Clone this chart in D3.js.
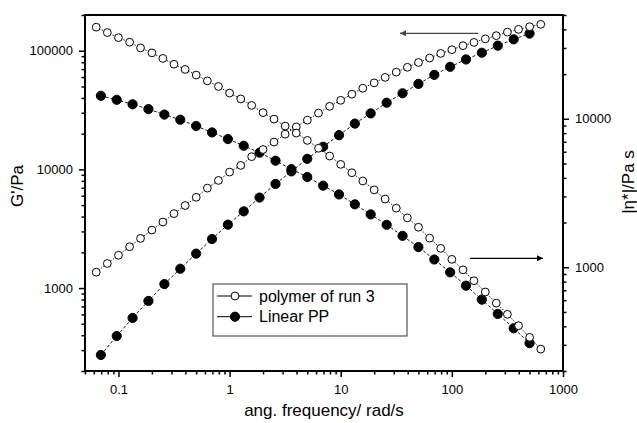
<!DOCTYPE html>
<html>
<head>
<meta charset="utf-8">
<script src="https://cdn.jsdelivr.net/npm/d3@7"></script>
<style>
body{margin:0;background:#fff;}
text{font-family:"Liberation Sans",Arial,sans-serif;fill:#000;}
</style>
</head>
<body>
<script>
let w=637,
  h=423;

// open circles: polymer of run 3
const freqOpen=[0.0631,0.0794,0.1,0.126,0.158,0.2,0.251,0.316,0.398,0.501,0.631,0.794,1,1.26,1.58,2,2.51,3.16,3.98,5.01,6.31,7.94,10,12.6,15.8,20,25.1,31.6,39.8,50.1,63.1,79.4,100,126,158,200,251,316,398,501,631];
const gOpen=[1360,1610,1890,2230,2620,3080,3600,4240,4960,5820,6950,8070,9490,10800,12800,14700,17000,19800,22800,26000,29800,34000,38200,43000,48300,53600,59600,66000,72500,79600,86800,94900,102000,110300,117500,125900,134000,143500,151400,159300,167000];
const etaOpen=[41400,38100,35200,32800,30000,27800,25500,23300,21500,19700,18000,16500,14900,13600,12300,11000,9950,8930,8010,7150,6330,5610,4930,4330,3810,3320,2880,2500,2150,1860,1570,1340,1130,960,811,681,573,482,404,337,281];

// filled circles: Linear PP
const freqFilled=[0.0695,0.0965,0.134,0.186,0.259,0.36,0.5,0.695,0.965,1.34,1.86,2.59,3.6,5,6.95,9.65,13.4,18.6,25.9,36,50,69.5,96.5,134,186,259,360,500];
const gFilled=[273,394,560,779,1080,1455,1950,2590,3420,4430,5790,7540,9620,12270,15510,19420,24300,29650,36470,43800,52530,62600,73170,84390,96180,110300,124700,139400];
const etaFilled=[14280,13420,12520,11620,10670,9850,8940,8090,7300,6580,5910,5220,4575,4054,3543,3093,2653,2269,1931,1627,1367,1127,924,751,605,485,388,308];

const xTicks=[0.1,1,10,100,1000];
const leftTicks=[1000,10000,100000];
const rightTicks=[1000,10000];
const legendLabels=["polymer of run 3","Linear PP"];

const L=85,R=563,T=15,B=371;

let xScale=d3.scaleLog().domain([0.05,1000]).range([L,R]);
let yLeft=d3.scaleLog().domain([200,200000]).range([B,T]);
let yRight=d3.scaleLog().domain([200,50000]).range([B,T]);

const svg=d3.select("body")
  .append("svg")
  .attr("width",w)
  .attr("height",h);

function fmt(d){ return d<1 ? String(d) : d3.format("d")(d); }

// minor ticks come from the scale itself, majors are the labelled ones
function axis(gen,scale,major,pos,tr){
  let minor=scale.ticks().filter(function(d){
    return !major.some(function(m){ return Math.abs(m-d)/m<1e-6; });
  });
  let g1=svg.append("g").attr("transform",tr)
    .call(gen(scale).tickValues(minor).tickSize(3.5).tickFormat(""));
  let g2=svg.append("g").attr("transform",tr)
    .call(gen(scale).tickValues(major).tickSize(6).tickPadding(pos=="b"?8:6).tickFormat(fmt));
  [g1,g2].forEach(function(g){
    g.select(".domain").remove();
    g.selectAll("line").attr("stroke","#000").attr("stroke-width",1.5);
    g.selectAll("text").attr("font-size",13);
  });
}
axis(d3.axisBottom,xScale,xTicks,"b","translate(0,"+B+")");
axis(d3.axisLeft,yLeft,leftTicks,"l","translate("+L+",0)");
axis(d3.axisRight,yRight,rightTicks,"r","translate("+R+",0)");

svg.append("rect")
  .attr("x",L).attr("y",T)
  .attr("width",R-L).attr("height",B-T)
  .attr("fill","none")
  .attr("stroke","#000")
  .attr("stroke-width",2);

// series
function series(freq,vals,yScale,filled){
  let pts=freq.map(function(f,i){ return [f,vals[i]]; });
  svg.append("path")
    .datum(pts)
    .attr("fill","none")
    .attr("stroke","#000")
    .attr("stroke-width",0.9)
    .attr("stroke-dasharray",filled?"3,2":"1.5,1.5")
    .attr("d",d3.line()
      .x(function(d){ return xScale(d[0]); })
      .y(function(d){ return yScale(d[1]); }));
  svg.append("g").selectAll("circle")
    .data(pts)
    .enter()
    .append("circle")
    .attr("cx",function(d){ return xScale(d[0]); })
    .attr("cy",function(d){ return yScale(d[1]); })
    .attr("r",filled?4.6:3.9)
    .attr("fill",filled?"#000":"#fff")
    .attr("stroke","#000")
    .attr("stroke-width",1);
}
series(freqFilled,gFilled,yLeft,true);
series(freqFilled,etaFilled,yRight,true);
series(freqOpen,gOpen,yLeft,false);
series(freqOpen,etaOpen,yRight,false);

// arrows pointing to the axis each pair belongs to
const defs=svg.append("defs");
[["ahG","#444"],["ahK","#000"]].forEach(function(a){
  defs.append("marker")
    .attr("id",a[0])
    .attr("viewBox","0 0 10 10")
    .attr("refX",10).attr("refY",5)
    .attr("markerWidth",9).attr("markerHeight",6)
    .attr("markerUnits","userSpaceOnUse")
    .attr("orient","auto")
    .append("path").attr("d","M0,0L10,5L0,10z").attr("fill",a[1]);
});
svg.append("line")
  .attr("x1",478).attr("y1",33.3).attr("x2",400).attr("y2",33.3)
  .attr("stroke","#444").attr("stroke-width",1.3)
  .attr("marker-end","url(#ahG)");
svg.append("line")
  .attr("x1",470).attr("y1",258.3).attr("x2",543).attr("y2",258.3)
  .attr("stroke","#000").attr("stroke-width",1.3)
  .attr("marker-end","url(#ahK)");

// legend
const lg=svg.append("g");
lg.append("rect")
  .attr("x",213).attr("y",284)
  .attr("width",194).attr("height",52)
  .attr("fill","#fff")
  .attr("stroke","#555")
  .attr("stroke-width",1.2);
legendLabels.forEach(function(lab,i){
  let y=296+i*20.7;
  lg.append("line")
    .attr("x1",217).attr("x2",252).attr("y1",y).attr("y2",y)
    .attr("stroke","#000").attr("stroke-width",1);
  lg.append("circle")
    .attr("cx",235).attr("cy",y)
    .attr("r",i==0?3.9:4.6)
    .attr("fill",i==0?"#fff":"#000")
    .attr("stroke","#000");
  lg.append("text")
    .attr("x",259).attr("y",y+5.5)
    .attr("font-size",16)
    .text(lab);
});

// axis titles
svg.append("text")
  .attr("x",(L+R)/2).attr("y",416)
  .attr("text-anchor","middle")
  .attr("font-size",17)
  .text("ang. frequency/ rad/s");
svg.append("text")
  .attr("transform","translate(23,186) rotate(-90)")
  .attr("text-anchor","middle")
  .attr("font-size",17)
  .text("G'/Pa");
svg.append("text")
  .attr("transform","translate(634,182) rotate(-90)")
  .attr("text-anchor","middle")
  .attr("font-size",17)
  .text("|η*|/Pa s");
</script>
</body>
</html>
